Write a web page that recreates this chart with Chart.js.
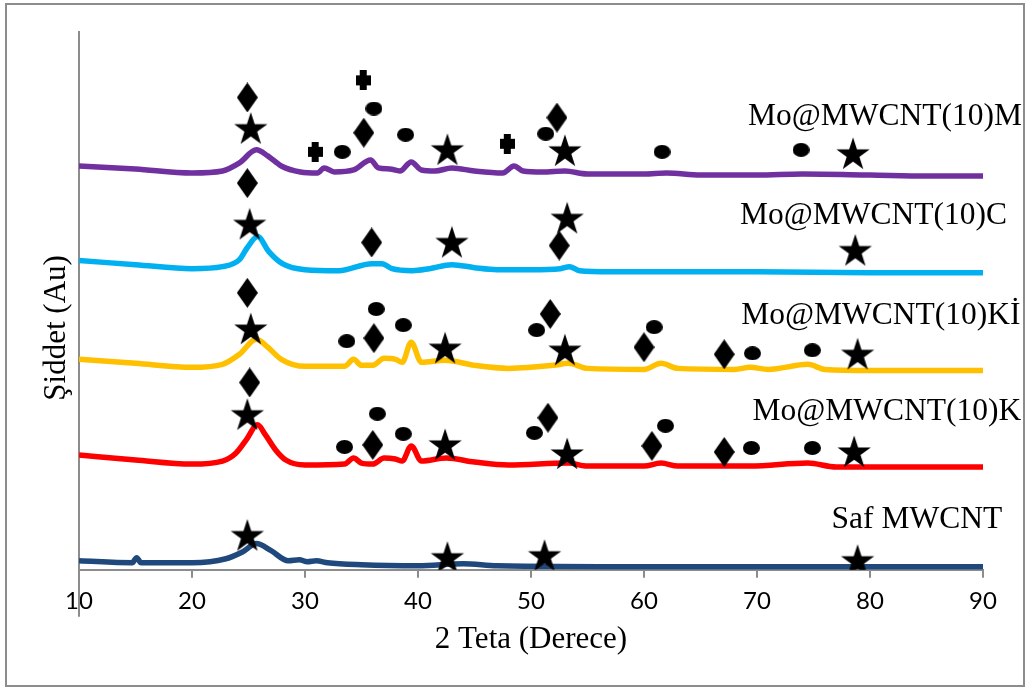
<!DOCTYPE html>
<html>
<head>
<meta charset="utf-8">
<script src="https://cdn.jsdelivr.net/npm/chart.js@4"></script>
<style>
  body { margin: 0; background: #fff; }
  canvas { display: block; }
</style>
</head>
<body>
<canvas id="xrd" width="1027" height="688"></canvas>
<script>
// 2 teta degerleri ve siddetler (keyfi birim)
const mTeta = [10, 15, 20, 22.7, 24.2, 25.7, 26.7, 27.9, 29.6, 31.1, 31.7, 32.6, 34.3, 35.8, 36.5, 37.5, 38.4, 39.4, 40.3, 41.5, 43, 45, 47.5, 48.5, 49.3, 51, 53, 55, 60, 62, 65, 70, 74, 80, 85, 90];
const mSiddet = [401, 398, 394, 396, 404, 417, 411, 401, 395, 394, 399, 395, 397, 407, 399, 398, 396, 405, 397, 396, 399, 396, 394, 401, 396, 395, 396, 393, 393, 394, 392, 392, 393, 392, 391, 391];

const cTeta = [10, 15, 20, 22.7, 24.2, 24.9, 25.8, 26.8, 28, 30, 33, 35.9, 36.8, 37.7, 39.5, 41, 43, 45, 47, 50, 52.6, 53.4, 54.3, 57, 62, 70, 80, 90];
const cSiddet = [307, 303, 299, 301, 308, 320, 331, 316, 304, 298, 297, 304, 304, 299, 297, 299, 303, 300, 298, 298, 299, 301, 297, 296, 296, 296, 295, 295];

const kiTeta = [10, 15, 20, 22.7, 24.2, 25.7, 26.7, 27.9, 30, 33.5, 34.3, 35, 36, 37, 38, 38.6, 39.4, 40.3, 42.4, 45, 48, 52, 53.3, 55, 60, 61.5, 63, 68, 69.4, 71, 74.5, 76, 80, 90];
const kiSiddet = [209, 205, 201, 204, 214, 229, 221, 209, 202, 202, 209, 203, 203, 210, 209, 206, 226, 206, 208, 203, 200, 203, 205, 200, 199, 205, 200, 199, 201, 199, 204, 199, 198, 198];

const kTeta = [10, 15, 20, 22.7, 23.9, 24.8, 25.8, 26.5, 27.4, 28.3, 30, 33.5, 34.3, 35, 36, 37, 38, 38.6, 39.4, 40.3, 42.5, 45, 48, 53.3, 55, 60, 61.5, 63, 69.4, 74.5, 77, 90];
const kSiddet = [114, 109, 105, 108, 116, 129, 144, 134, 119, 109, 104, 105, 111, 106, 105, 111, 110, 108, 123, 108, 111, 107, 104, 106, 103, 103, 106, 103, 103, 106, 102, 102];

const safTeta = [10, 14.7, 15.1, 15.5, 20, 23, 24.5, 25.7, 27, 28.5, 29.5, 30.2, 31, 32, 35, 40, 44, 47, 60, 80, 90];
const safSiddet = [9, 7, 12, 7, 7, 11, 18, 26, 19, 9, 10, 8, 9, 7, 5, 4, 6, 4, 3, 3, 3];

// faz isaretleri
const yildizX = [25.2, 42.6, 53.0, 78.5, 25.1, 43.0, 53.2, 78.7, 25.2, 42.4, 53.0, 78.9, 24.9, 42.4, 53.2, 78.6, 24.9, 42.6, 51.2, 78.9];
const yildizY = [438, 417, 416, 413, 343, 325, 349, 317, 239, 220, 218, 214, 154, 124, 115, 117, 34, 12, 14, 9];
const karoX = [24.9, 35.2, 52.3, 24.9, 35.9, 52.5, 24.9, 36.1, 51.7, 60.0, 67.1, 25.1, 36.0, 51.5, 60.7, 67.1];
const karoY = [469, 434, 449, 384, 325, 322, 275, 230, 254, 221, 214, 186, 124, 151, 123, 117];
const noktaX = [36.1, 38.9, 33.3, 51.3, 61.6, 73.9, 36.3, 33.7, 38.7, 50.5, 60.9, 69.6, 74.9, 36.4, 33.5, 38.7, 50.3, 61.9, 69.5, 74.9];
const noktaY = [458, 432, 415, 433, 415, 417, 259, 227, 243, 238, 241, 215, 218, 155, 122, 135, 136, 143, 121, 121];
const artiX = [35.15, 30.9, 47.9];
const artiY = [486, 415, 423];

// seri etiketleri
const etiketler = ["Mo@MWCNT(10)M", "Mo@MWCNT(10)C", "Mo@MWCNT(10)Kİ", "Mo@MWCNT(10)K", "Saf MWCNT"];
const etiketX = [69.2, 68.5, 68.6, 69.6, 76.6];
const etiketY = [442, 343, 244, 149, 42];

const xTicks = [10, 20, 30, 40, 50, 60, 70, 80, 90];

function noktalar(xs, ys) {
    return xs.map((x, i) => ({ x: x, y: ys[i] }));
}

function sekil(w, h, ciz) {
    const c = document.createElement("canvas");
    c.width = w;
    c.height = h;
    const g = c.getContext("2d");
    g.fillStyle = "#000";
    ciz(g, w, h);
    return c;
}

const yildiz = sekil(36, 34, (g) => {
    const R = 17.5, r = R * 0.382, cx = 18, cy = 18;
    g.beginPath();
    for (let i = 0; i < 10; i++) {
        const a = -Math.PI / 2 + i * Math.PI / 5;
        const rr = i % 2 === 0 ? R : r;
        g.lineTo(cx + rr * Math.cos(a), cy + rr * Math.sin(a));
    }
    g.closePath();
    g.fill();
});
const karo = sekil(21, 30, (g, w, h) => {
    g.beginPath();
    g.moveTo(w / 2, 0);
    g.lineTo(w, h / 2);
    g.lineTo(w / 2, h);
    g.lineTo(0, h / 2);
    g.closePath();
    g.fill();
});
const nokta = sekil(17, 14, (g, w, h) => {
    g.beginPath();
    g.ellipse(w / 2, h / 2, w / 2, h / 2, 0, 0, Math.PI * 2);
    g.fill();
});
const arti = sekil(15, 20, (g) => {
    g.fillRect(4, 0, 7, 20);
    g.fillRect(0, 5, 15, 10);
});

const cerceve = {
    id: "cerceve",
    afterDraw(chart) {
        const ctx = chart.ctx;
        const xs = chart.scales.x, ys = chart.scales.y;
        const alan = chart.chartArea;
        ctx.save();
        ctx.strokeStyle = "#8c8c8c";
        ctx.lineWidth = 2;
        ctx.strokeRect(6, 4, chart.width - 9, chart.height - 6);
        // dikey eksen asagi uzar
        ctx.beginPath();
        ctx.moveTo(xs.getPixelForValue(10), ys.bottom);
        ctx.lineTo(xs.getPixelForValue(10), ys.bottom + 47);
        ctx.stroke();
        ctx.fillStyle = "#000";
        ctx.font = "31.5px 'Liberation Serif'";
        ctx.textAlign = "left";
        ctx.textBaseline = "alphabetic";
        etiketler.forEach((t, i) => {
            ctx.fillText(t, xs.getPixelForValue(etiketX[i]), ys.getPixelForValue(etiketY[i]));
        });
        // dikey eksen basligi
        ctx.font = "31px 'Liberation Serif'";
        ctx.textAlign = "center";
        ctx.textBaseline = "middle";
        ctx.translate(alan.left - 22, (alan.top + alan.bottom) / 2 + 27);
        ctx.rotate(-Math.PI / 2);
        ctx.fillText("Şiddet (Au)", 0, 0);
        ctx.restore();
    }
};

function seri(xs, ys, renk) {
    return {
        data: noktalar(xs, ys),
        borderColor: renk,
        backgroundColor: renk,
        borderWidth: 5.5,
        pointRadius: 0,
        cubicInterpolationMode: "monotone",
        order: 1
    };
}

function isaret(xs, ys, resim) {
    return {
        data: noktalar(xs, ys),
        showLine: false,
        pointStyle: resim,
        pointRadius: 5,
        order: 0
    };
}

new Chart(document.getElementById("xrd").getContext("2d"), {
    type: "line",
    data: {
        datasets: [
            isaret(yildizX, yildizY, yildiz),
            isaret(karoX, karoY, karo),
            isaret(noktaX, noktaY, nokta),
            isaret(artiX, artiY, arti),
            seri(mTeta, mSiddet, "#7030A0"),
            seri(cTeta, cSiddet, "#00B0F0"),
            seri(kiTeta, kiSiddet, "#FFC000"),
            seri(kTeta, kSiddet, "#FF0000"),
            seri(safTeta, safSiddet, "#1F497D")
        ]
    },
    options: {
        responsive: false,
        animation: false,
        events: [],
        layout: {
            padding: { left: 79, right: 44, top: 32, bottom: 26 }
        },
        plugins: {
            legend: { display: false },
            tooltip: { enabled: false }
        },
        scales: {
            x: {
                type: "linear",
                min: 10,
                max: 90,
                afterBuildTicks: (axis) => {
                    axis.ticks = xTicks.map((v) => ({ value: v }));
                },
                ticks: {
                    color: "#000",
                    padding: 11,
                    font: { family: "Lato", size: 24, lineHeight: 1 }
                },
                grid: {
                    display: true,
                    drawOnChartArea: false,
                    drawTicks: true,
                    tickLength: 8,
                    color: "#8c8c8c",
                    lineWidth: 2
                },
                border: { display: true, color: "#8c8c8c", width: 2 },
                title: {
                    display: true,
                    text: "2 Teta (Derece)",
                    color: "#000",
                    font: { family: "Liberation Serif", size: 31 },
                    padding: { top: -3, bottom: 4 }
                }
            },
            y: {
                min: 0,
                max: 534,
                ticks: { display: false },
                grid: { display: false, drawTicks: false },
                border: { display: true, color: "#8c8c8c", width: 2 },
                title: { display: false }
            }
        }
    },
    plugins: [cerceve]
});
</script>
</body>
</html>
